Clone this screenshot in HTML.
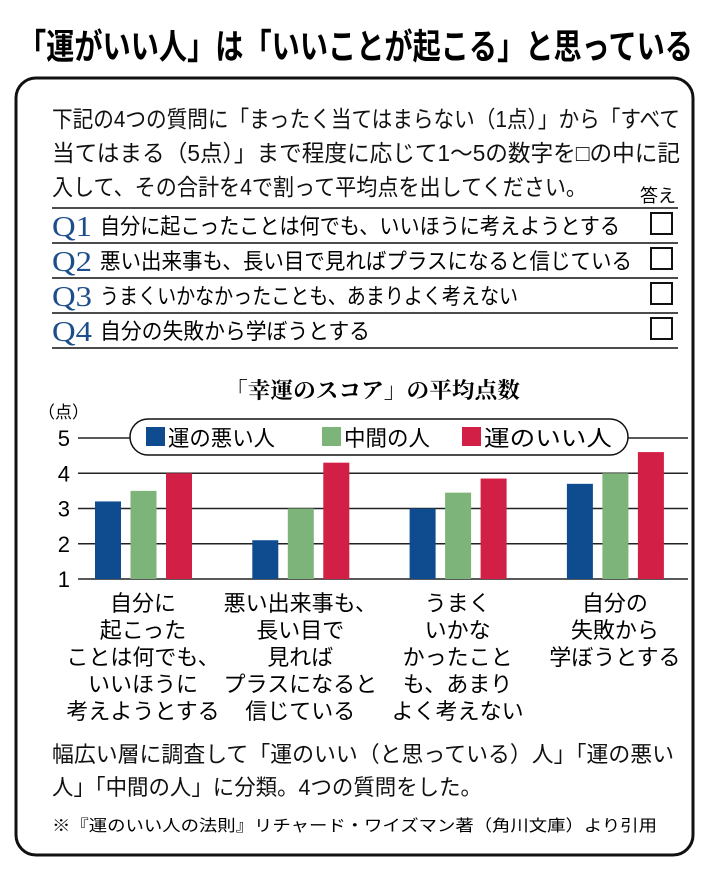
<!DOCTYPE html>
<html><head><meta charset="utf-8"><style>
html,body{margin:0;padding:0;background:#fff;}
svg{display:block;font-family:"Liberation Sans","Noto Sans CJK JP",sans-serif;}
.serif{font-family:"Liberation Serif","Noto Serif CJK SC",serif;}
</style></head><body>
<svg id="chart" width="710" height="872" viewBox="0 0 710 872">
<text x="18" y="59" font-size="35" font-weight="bold" textLength="675" lengthAdjust="spacingAndGlyphs">「運がいい人」は「いいことが起こる」と思っている</text>
<rect x="16" y="78" width="677" height="777" rx="20" fill="none" stroke="#111" stroke-width="3"/>
<g font-size="23" fill="#111">
<text x="52" y="127" textLength="628" lengthAdjust="spacingAndGlyphs">下記の4つの質問に「まったく当てはまらない（1点）」から「すべて</text>
<text x="52" y="161" textLength="628" lengthAdjust="spacingAndGlyphs">当てはまる（5点）」まで程度に応じて1〜5の数字を□の中に記</text>
<text x="52" y="195" textLength="535" lengthAdjust="spacingAndGlyphs">入して、その合計を4で割って平均点を出してください。</text>
</g>
<text x="640" y="202" font-size="18" textLength="36" lengthAdjust="spacingAndGlyphs">答え</text>
<g id="qrows"></g>
<text x="225" y="398" class="serif" font-size="22" font-weight="bold" textLength="295" lengthAdjust="spacingAndGlyphs">「幸運のスコア」の平均点数</text>
<text x="38" y="418" font-size="17">（点）</text>
<g id="grid"></g>
<g id="bars"></g>
<g>
<rect x="130" y="419" width="498" height="36" rx="18" fill="#fff" stroke="#111" stroke-width="1.5"/>
<rect x="146" y="427" width="19" height="19" fill="#0f4c8f"/>
<text x="168" y="446" font-size="22" textLength="107" lengthAdjust="spacingAndGlyphs">運の悪い人</text>
<rect x="322" y="427" width="19" height="19" fill="#7db47a"/>
<text x="344" y="446" font-size="22" textLength="86" lengthAdjust="spacingAndGlyphs">中間の人</text>
<rect x="462" y="427" width="19" height="19" fill="#d11f45"/>
<text x="484" y="446" font-size="22" textLength="128" lengthAdjust="spacingAndGlyphs">運のいい人</text>
</g>
<g id="cats" font-size="22" text-anchor="middle"></g>
<g font-size="22" fill="#111">
<text x="52" y="762" textLength="622" lengthAdjust="spacingAndGlyphs">幅広い層に調査して「運のいい（と思っている）人」「運の悪い</text>
<text x="52" y="795" textLength="430" lengthAdjust="spacingAndGlyphs">人」「中間の人」に分類。4つの質問をした。</text>
</g>
<text x="52" y="831" font-size="16" textLength="605" lengthAdjust="spacingAndGlyphs">※『運のいい人の法則』リチャード・ワイズマン著（角川文庫）より引用</text>
</svg>
<script>
const categories = ["Q1","Q2","Q3","Q4"];
const unluckyValues = [3.2, 2.1, 3.0, 3.7];
const middleValues = [3.5, 3.0, 3.45, 4.0];
const luckyValues = [4.0, 4.3, 3.85, 4.6];
const yTicks = [1, 2, 3, 4, 5];
const questionTexts = ["自分に起こったことは何でも、いいほうに考えようとする","悪い出来事も、長い目で見ればプラスになると信じている","うまくいかなかったことも、あまりよく考えない","自分の失敗から学ぼうとする"];
const categoryLabels = [["自分に","起こった","ことは何でも、","いいほうに","考えようとする"],["悪い出来事も、","長い目で","見れば","プラスになると","信じている"],["うまく","いかな","かったこと","も、あまり","よく考えない"],["自分の","失敗から","学ぼうとする"]];

const NS = "http://www.w3.org/2000/svg";
function mk(tag, attrs, parent){const e=document.createElementNS(NS,tag);for(const k in attrs)e.setAttribute(k,attrs[k]);parent.appendChild(e);return e;}
const y = v => 579 - (v - 1) * 35.25;
const groupX = i => 95 + i * 157.3;

const qrows = document.getElementById('qrows');
const qWidths=[520,532,418,270];
[208,243,278,313,348].forEach((ly,i)=>{
  const l=mk('line',{x1:52,x2:678,y1:ly,y2:ly,stroke:'#111','stroke-width':1.5},qrows);
  
  
});
questionTexts.forEach((t,i)=>{
  const by=236+i*35;
  const q=mk('text',{x:52,y:by,'font-size':28,fill:'#1d4e8c',class:'serif',textLength:40,lengthAdjust:'spacingAndGlyphs'},qrows);q.textContent=categories[i];
  
  
  const tx=mk('text',{x:100,y:by-2,'font-size':22,textLength:qWidths[i],lengthAdjust:'spacingAndGlyphs'},qrows);tx.textContent=t;
  
  
  const cb=mk('rect',{x:651,y:by-23,width:21,height:21,fill:'#fff',stroke:'#111','stroke-width':2},qrows);
  
  
});

const grid=document.getElementById('grid');
yTicks.forEach(t=>{
  const l=mk('line',{x1:78,x2:688,y1:y(t),y2:y(t),stroke:'#222','stroke-width':1.5},grid);
  
  
  const tx=mk('text',{x:70,y:y(t)+8,'font-size':22,'text-anchor':'end'},grid);tx.textContent=t;
  
  
});

const bars=document.getElementById('bars');
const series=[[unluckyValues,'#0f4c8f','unlucky'],[middleValues,'#7db47a','middle'],[luckyValues,'#d11f45','lucky']];
categories.forEach((c,i)=>{
  series.forEach((s,j)=>{
    const v=s[0][i];
    const r=mk('rect',{x:groupX(i)+j*35.5,y:y(v),width:26,height:y(1)-y(v),fill:s[1]},bars);
    
    
  });
});

const cats=document.getElementById('cats');
categoryLabels.forEach((lines,i)=>{
  const cx=groupX(i)+48;
  const g=mk('g',{},cats);
  
  
  lines.forEach((ln,k)=>{const t=mk('text',{x:cx,y:611+k*27},g);t.textContent=ln;});
});
</script>
</body></html>
